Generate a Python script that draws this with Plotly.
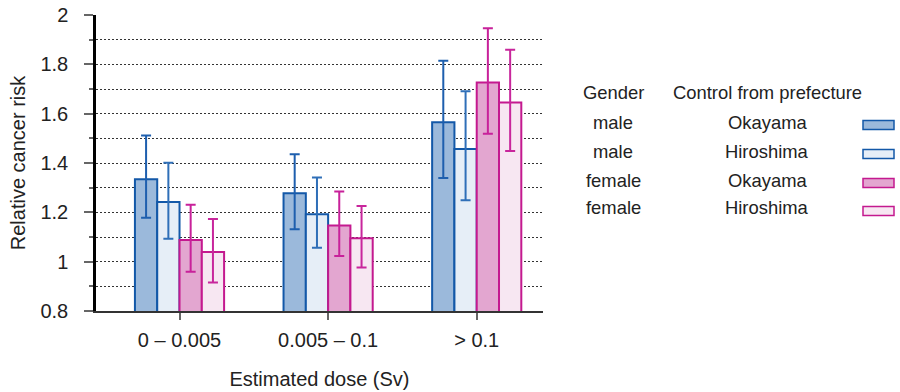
import plotly.graph_objects as go

# ---- data ----
categories = ["0 – 0.005", "0.005 – 0.1", "> 0.1"]
series_names = ["male Okayama", "male Hiroshima", "female Okayama", "female Hiroshima"]
genders = ["male", "male", "female", "female"]
controls = ["Okayama", "Hiroshima", "Okayama", "Hiroshima"]

male_okayama = [1.334, 1.277, 1.565]
male_okayama_hi = [1.511, 1.435, 1.815]
male_okayama_lo = [1.178, 1.131, 1.339]

male_hiroshima = [1.242, 1.192, 1.457]
male_hiroshima_hi = [1.401, 1.341, 1.691]
male_hiroshima_lo = [1.093, 1.056, 1.249]

female_okayama = [1.088, 1.147, 1.726]
female_okayama_hi = [1.231, 1.284, 1.946]
female_okayama_lo = [0.959, 1.023, 1.519]

female_hiroshima = [1.039, 1.095, 1.645]
female_hiroshima_hi = [1.173, 1.226, 1.859]
female_hiroshima_lo = [0.916, 0.976, 1.449]

y_ticks = [0.8, 1.0, 1.2, 1.4, 1.6, 1.8, 2.0]
y_tick_labels = ["0.8", "1", "1.2", "1.4", "1.6", "1.8", "2"]

values = [male_okayama, male_hiroshima, female_okayama, female_hiroshima]
highs = [male_okayama_hi, male_hiroshima_hi, female_okayama_hi, female_hiroshima_hi]
lows = [male_okayama_lo, male_hiroshima_lo, female_okayama_lo, female_hiroshima_lo]

fills = ["#9bb9db", "#e6eef7", "#e3a6d0", "#f7e7f2"]
lines = ["#1358a8", "#1358a8", "#c4198f", "#c4198f"]
errcols = ["#1e5fae", "#2f6fb8", "#c8219a", "#c8269c"]

FONT = "Liberation Sans, Arial, sans-serif"
W, H = 900, 392
ML, MR, MT, MB = 96, 357, 15, 81

fig = go.Figure()
for i in range(4):
    fig.add_trace(go.Bar(
        x=categories, y=values[i], name=series_names[i],
        marker=dict(color=fills[i], line=dict(color=lines[i], width=2)),
        error_y=dict(type="data", symmetric=False,
                     array=[h - v for h, v in zip(highs[i], values[i])],
                     arrayminus=[v - l for v, l in zip(values[i], lows[i])],
                     color=errcols[i], thickness=2, width=5),
        showlegend=False,
    ))

fig.update_layout(
    width=W, height=H,
    margin=dict(l=ML, r=MR, t=MT, b=MB, autoexpand=False),
    paper_bgcolor="white", plot_bgcolor="white",
    barmode="group", bargap=0.4, bargroupgap=0,
    font=dict(family=FONT, size=20, color="#222"),
)
fig.update_xaxes(
    type="category", range=[-0.562, 2.446], automargin=False,
    showline=True, linecolor="#333", linewidth=2,
    ticks="outside", ticklen=7, tickcolor="#666", tickwidth=1.5,
    ticklabelstandoff=3,
    tickfont=dict(size=20),
    title=dict(text="Estimated dose (Sv)", font=dict(size=20), standoff=22),
    showgrid=False, zeroline=False,
)
fig.update_yaxes(
    range=[0.8, 2.0], automargin=False,
    tickvals=y_ticks, ticktext=y_tick_labels,
    showline=True, linecolor="#000", linewidth=2.5,
    ticks="outside", ticklen=9, tickcolor="#666", tickwidth=2,
    ticklabelstandoff=12,
    tickfont=dict(size=20),
    showgrid=True, gridcolor="#333", griddash="2px,2px", gridwidth=1,
    minor=dict(dtick=0.1, ticks="outside", ticklen=4, tickcolor="#666",
               showgrid=True, gridcolor="#333", griddash="2px,2px", gridwidth=1),
    zeroline=False,
    title=dict(text="Relative cancer risk", font=dict(size=20), standoff=10),
)

# ---- legend table (layout annotations) ----
pw = W - ML - MR
ph = H - MT - MB
def px(x):
    return (x - ML) / pw
def py(y):
    return 1 - (y - MT) / ph

head_y = 93
row_ys = [122, 151, 180, 208]
LF = 18.4
fig.add_annotation(x=px(613), y=py(head_y), xref="paper", yref="paper",
                   text="Gender", showarrow=False, font=dict(size=LF),
                   xanchor="center", yanchor="middle")
fig.add_annotation(x=px(767), y=py(head_y), xref="paper", yref="paper",
                   text="Control from prefecture", showarrow=False, font=dict(size=LF),
                   xanchor="center", yanchor="middle")
for i in range(4):
    fig.add_annotation(x=px(613), y=py(row_ys[i]), xref="paper", yref="paper",
                       text=genders[i], showarrow=False, font=dict(size=LF),
                       xanchor="center", yanchor="middle")
    fig.add_annotation(x=px(767), y=py(row_ys[i]), xref="paper", yref="paper",
                       text=controls[i], showarrow=False, font=dict(size=LF),
                       xanchor="center", yanchor="middle")
    sy = row_ys[i] + 3
    fig.add_shape(type="rect", xref="paper", yref="paper",
                  x0=px(863), x1=px(894), y0=py(sy + 4.5), y1=py(sy - 4.5),
                  fillcolor=fills[i], line=dict(color=lines[i], width=1.5))

fig.write_html("out.html",
               config={"displayModeBar": False},
               post_script="document.body.style.margin='0';document.body.style.padding='0';")
